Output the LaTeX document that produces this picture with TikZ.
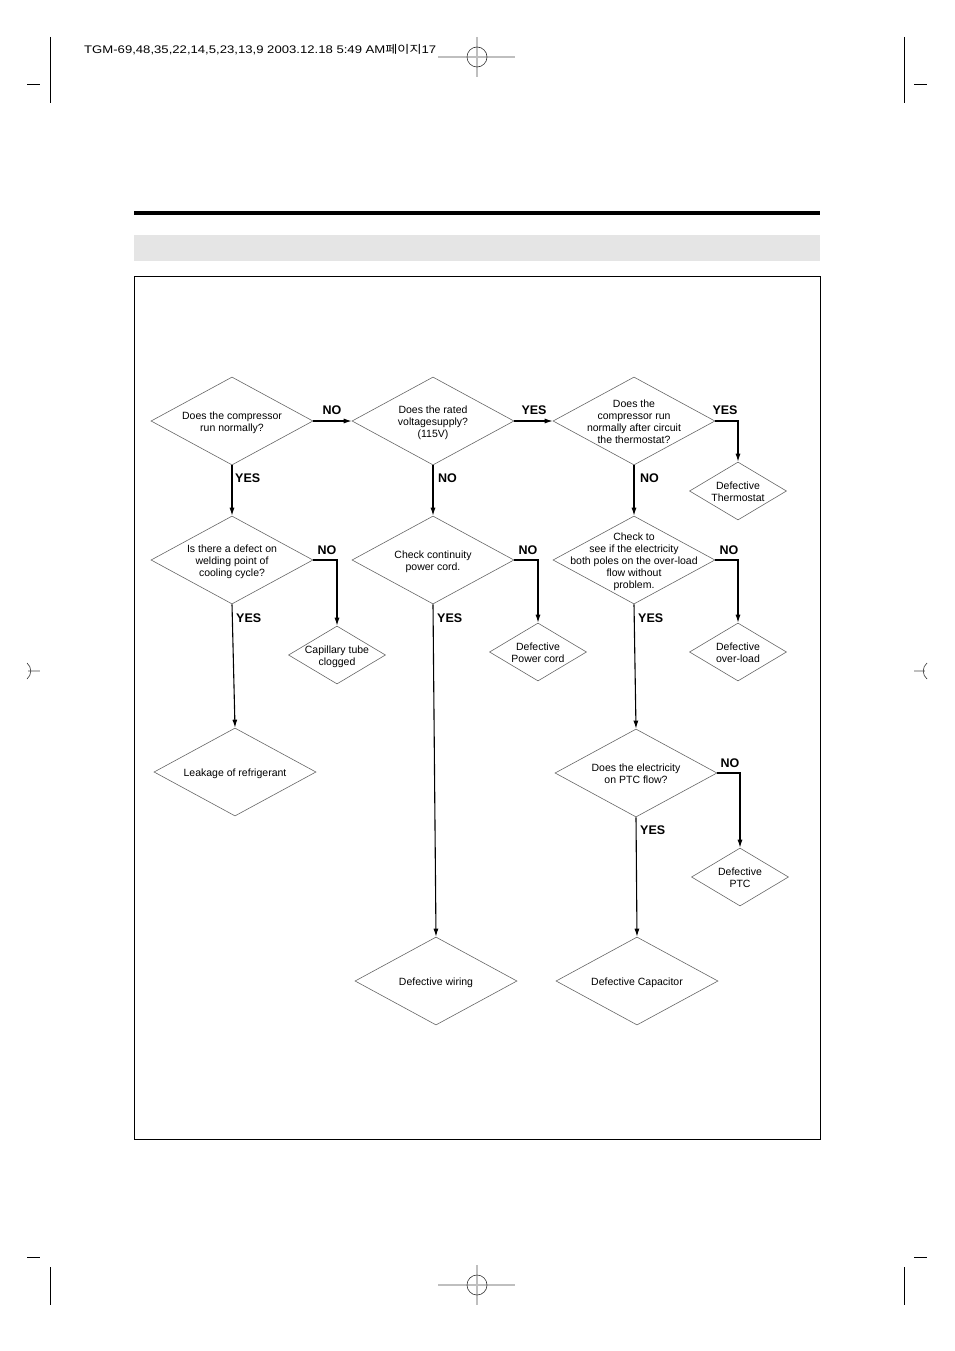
\documentclass[tikz,border=0pt]{standalone}
\usepackage{fontspec}
\setmainfont{Liberation Sans}
\newfontfamily\krfont{Noto Sans CJK KR}
\usetikzlibrary{shapes.geometric, arrows.meta}
\usetikzlibrary{positioning}

% text of a diamond, not taken into account for its size
\newcommand{\dtext}[1]{\makebox[0pt]{\smash{\raisebox{-4.5pt}{\begin{tabular}{@{}c@{}}#1\end{tabular}}}}}

\tikzstyle{question} = [
    diamond,
    draw=black!60,
    line width=0.6pt,
    inner sep=0pt,
    minimum width=162pt,
    minimum height=88pt,
    font=\fontsize{10.5}{12}\selectfont
]
\tikzstyle{big_result} = [question]
\tikzstyle{small_result} = [
    diamond,
    draw=black!60,
    line width=0.6pt,
    inner sep=0pt,
    minimum width=97pt,
    minimum height=58pt,
    font=\fontsize{10.5}{12}\selectfont
]
\tikzstyle{answer} = [
    font=\fontsize{12.5}{14}\selectfont\bfseries,
    inner sep=0pt
]
\tikzstyle{flow} = [
    draw=black,
    line width=1.1pt,
    -{Latex[length=8pt, width=5pt]}
]
\tikzstyle{crop_line} = [black, line width=1pt]
\tikzstyle{reg_line} = [black!25, line width=1.5pt]

\begin{document}
\begin{tikzpicture}[x=1pt, y=-1pt]
\useasboundingbox (0,0) rectangle (954,1351);

% page marks
\node [anchor=west, inner sep=0pt, font=\fontsize{11}{13}\selectfont] (header) at (84,50)
    {\resizebox{352pt}{\height}{TGM-69,48,35,22,14,5,23,13,9 2003.12.18 5:49 AM{\krfont 페이지}17}};
\draw [crop_line] (50,37) -- (50,103);
\draw [crop_line] (904,37) -- (904,103);
\draw [crop_line] (27,85) -- (40,85);
\draw [crop_line] (914,85) -- (927,85);
\draw [crop_line] (50,1267) -- (50,1305);
\draw [crop_line] (904,1267) -- (904,1305);
\draw [crop_line] (27,1257) -- (40,1257);
\draw [crop_line] (914,1257) -- (927,1257);
\foreach \y in {57, 1285} {
    \draw [reg_line] (438,\y) -- (515,\y);
    \draw [reg_line] (477,\y-20) -- (477,\y+20);
    \draw [black!80, line width=0.6pt] (477,\y) circle (10);
}
\draw [reg_line] (28,671) -- (40,671);
\draw [reg_line] (914,671) -- (925,671);
\draw [black!80, line width=0.6pt] (27,663) .. controls (32,667) and (32,675) .. (27,679);
\draw [black!80, line width=0.6pt] (927,663) .. controls (922,667) and (922,675) .. (927,679);

% title rule, bar and frame
\fill [black] (134,211) rectangle (820,215);
\fill [black!10] (134,235) rectangle (820,261);
\draw [black, line width=0.8pt] (134,276) rectangle (820,1139);

% questions
\node [question] (q_comp) at (232,421) {\dtext{Does the compressor\\run normally?}};
\node [question] (q_volt) at (433,421) {\dtext{Does the rated\\voltagesupply?\\(115V)}};
\node [question] (q_therm) at (634,421) {\dtext{Does the\\compressor run\\normally after circuit\\the thermostat?}};
\node [question] (q_weld) at (232,560) {\dtext{Is there a defect on\\welding point of\\cooling cycle?}};
\node [question] (q_cord) at (433,560) {\dtext{Check continuity\\power cord.}};
\node [question] (q_load) at (634,560) {\dtext{Check to\\see if the electricity\\both poles on the over-load\\flow without\\problem.}};
\node [question] (q_ptc) at (636,773) {\dtext{Does the electricity\\on PTC flow?}};

% results
\node [small_result] (r_therm) at (738,491) {\dtext{Defective\\Thermostat}};
\node [small_result] (r_tube) at (337,655) {\dtext{Capillary tube\\clogged}};
\node [small_result] (r_cord) at (538,652) {\dtext{Defective\\Power cord}};
\node [small_result] (r_load) at (738,652) {\dtext{Defective\\over-load}};
\node [small_result] (r_ptc) at (740,877) {\dtext{Defective\\PTC}};
\node [big_result] (r_leak) at (235,772) {\dtext{Leakage of refrigerant}};
\node [big_result] (r_wire) at (436,981) {\dtext{Defective wiring}};
\node [big_result] (r_cap) at (637,981) {\dtext{Defective Capacitor}};

% connectors
\draw [flow] (q_comp.east) -- (q_volt.west);
\draw [flow] (q_volt.east) -- (q_therm.west);
\draw [flow] (q_therm.east) -| (r_therm.north);
\draw [flow] (q_comp.south) -- (q_weld.north);
\draw [flow] (q_volt.south) -- (q_cord.north);
\draw [flow] (q_therm.south) -- (q_load.north);
\draw [flow] (q_weld.east) -| (r_tube.north);
\draw [flow] (q_cord.east) -| (r_cord.north);
\draw [flow] (q_load.east) -| (r_load.north);
\draw [flow] (q_weld.south) -- (r_leak.north);
\draw [flow] (q_cord.south) -- (r_wire.north);
\draw [flow] (q_load.south) -- (q_ptc.north);
\draw [flow] (q_ptc.east) -| (r_ptc.north);
\draw [flow] (q_ptc.south) -- (r_cap.north);

% answers
\node [answer] (a_comp_no) at (332,410) {NO};
\node [answer] (a_volt_yes) at (534,410) {YES};
\node [answer] (a_therm_yes) at (725,410) {YES};
\node [answer, anchor=west] (a_comp_yes) at (235,478) {YES};
\node [answer, anchor=west] (a_volt_no) at (438,478) {NO};
\node [answer, anchor=west] (a_therm_no) at (640,478) {NO};
\node [answer] (a_weld_no) at (327,550) {NO};
\node [answer] (a_cord_no) at (528,550) {NO};
\node [answer] (a_load_no) at (729,550) {NO};
\node [answer, anchor=west] (a_weld_yes) at (236,618) {YES};
\node [answer, anchor=west] (a_cord_yes) at (437,618) {YES};
\node [answer, anchor=west] (a_load_yes) at (638,618) {YES};
\node [answer] (a_ptc_no) at (730,763) {NO};
\node [answer, anchor=west] (a_ptc_yes) at (640,830) {YES};
\end{tikzpicture}
\end{document}
